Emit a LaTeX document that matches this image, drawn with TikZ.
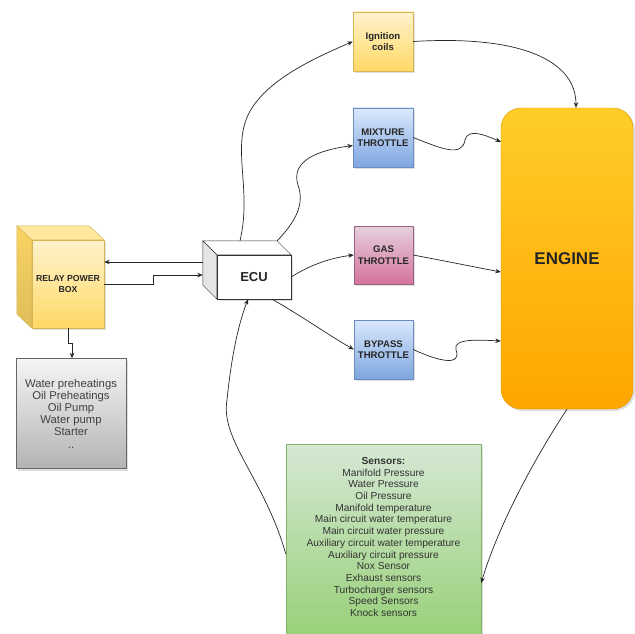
\documentclass[tikz,border=0pt]{standalone}
\usepackage{fontspec}
\setmainfont{Liberation Sans}
\usetikzlibrary{arrows.meta,shadows}
\definecolor{ylwtop}{HTML}{FFF2CC}
\definecolor{ylwbot}{HTML}{FFD966}
\definecolor{ylwline}{HTML}{D6B656}
\definecolor{blutop}{HTML}{DAE8FC}
\definecolor{blubot}{HTML}{7EA6E0}
\definecolor{bluline}{HTML}{6C8EBF}
\definecolor{pnktop}{HTML}{E6D0DE}
\definecolor{pnkbot}{HTML}{D5739D}
\definecolor{pnkline}{HTML}{996185}
\definecolor{orgtop}{HTML}{FFCD28}
\definecolor{orgbot}{HTML}{FFA500}
\definecolor{orgline}{HTML}{D79B00}
\definecolor{grytop}{HTML}{F5F5F5}
\definecolor{grybot}{HTML}{B3B3B3}
\definecolor{gryline}{HTML}{666666}
\definecolor{grntop}{HTML}{D5E8D4}
\definecolor{grnbot}{HTML}{97D077}
\definecolor{grnline}{HTML}{82B366}
\tikzset{
  blk/.style={draw, inner sep=0pt, align=center, text=black!85,
    font=\bfseries\fontsize{9.6}{11.5}\selectfont,
    drop shadow={opacity=.25, shadow xshift=2pt, shadow yshift=-2pt}},
  ylwblk/.style={blk, draw=ylwline, top color=ylwtop, bottom color=ylwbot},
  blublk/.style={blk, draw=bluline, top color=blutop, bottom color=blubot},
  pnkblk/.style={blk, draw=pnkline, top color=pnktop, bottom color=pnkbot},
  wire/.style={draw=black!85, line width=.7pt, -{Stealth[length=5.5pt,width=4.5pt]}},
}
\begin{document}
\begin{tikzpicture}[x=1pt,y=1pt]
\useasboundingbox (0,0) rectangle (635,-634);

\node[ylwblk, minimum width=60pt, minimum height=59pt] (ign) at (383,-41.5) {Ignition\\coils};
\node[blublk, minimum width=60pt, minimum height=59pt] (mix) at (383,-137.5) {MIXTURE\\THROTTLE};
\node[pnkblk, minimum width=59pt, minimum height=58pt] (gas) at (383.5,-255) {GAS\\THROTTLE};
\node[blublk, minimum width=59pt, minimum height=59pt] (byp) at (383.5,-349.5) {BYPASS\\THROTTLE};

\node[blk, draw=orgline, top color=orgtop, bottom color=orgbot, rounded corners=20pt,
  minimum width=132pt, minimum height=301pt, font=\bfseries\fontsize{17}{20}\selectfont] (engine) at (567,-258.5) {ENGINE};

\node[blk, draw=black!80, fill=white, minimum width=74pt, minimum height=44pt,
  font=\bfseries\fontsize{13}{15}\selectfont] (ecu) at (254,-277) {ECU};
\draw[draw=black!80, fill=white] (ecu.north west) -- ([shift={(-14,14)}]ecu.north west)
  -- ([shift={(-14,14)}]ecu.north east) -- (ecu.north east) -- cycle;
\draw[draw=black!80, fill=black!10] (ecu.north west) -- ([shift={(-14,14)}]ecu.north west)
  -- ([shift={(-14,14)}]ecu.south west) -- (ecu.south west) -- cycle;

\node[ylwblk, minimum width=72pt, minimum height=88pt,
  font=\bfseries\fontsize{8.7}{10.5}\selectfont] (relay) at (68,-284) {RELAY POWER\\BOX};
\draw[draw=ylwline, fill=ylwtop!55!ylwbot] (relay.north west) -- ([shift={(-15,14)}]relay.north west)
  -- ([shift={(-15,14)}]relay.north east) -- (relay.north east) -- cycle;
\draw[draw=ylwline, top color=ylwbot!85!ylwline, bottom color=ylwline!80!ylwbot] (relay.north west) -- ([shift={(-15,14)}]relay.north west)
  -- ([shift={(-15,14)}]relay.south west) -- (relay.south west) -- cycle;

\node[blk, draw=gryline, top color=grytop, bottom color=grybot, minimum width=110pt, minimum height=110pt,
  text=black!75, font=\fontsize{11.3}{12.2}\selectfont] (aux) at (71,-413.5)
  {Water preheatings\\Oil Preheatings\\Oil Pump\\Water pump\\Starter\\..};

\node[blk, draw=grnline, top color=grntop, bottom color=grnbot, minimum width=195pt, minimum height=196pt] (sensors) at (383.5,-542) {};
\node[align=center, text=black!80, inner sep=0pt, font=\fontsize{10.2}{11.7}\selectfont] (senslist) at (383.5,-537)
  {\textbf{Sensors:}\\Manifold Pressure\\Water Pressure\\Oil Pressure\\Manifold temperature\\Main circuit water temperature\\Main circuit water pressure\\Auxiliary circuit water temperature\\Auxiliary circuit pressure\\Nox Sensor\\Exhaust sensors\\Turbocharger sensors\\Speed Sensors\\Knock sensors};

\draw[wire] ([shift={(-14,15)}]ecu.west) -- ([yshift=22pt]relay.east);
\draw[wire] (relay.east) -- ++(49,0) |- ([shift={(-14,2)}]ecu.west);
\draw[wire] (relay.south) -- ++(0,-15) -| ([xshift=1pt]aux.north);

\draw[wire] ([shift={(-14,14)}]ecu.north) .. controls (252,-190) and (232,-150) .. (248,-115)
  .. controls (265,-80) and (315,-58) .. (ign.west);
\draw[wire] ([shift={(-14,14)}]ecu.north east) .. controls (295,-222) and (305,-205) .. (298,-185)
  .. controls (290,-160) and (320,-150) .. ([yshift=-8pt]mix.west);
\draw[wire] (ecu.east) .. controls (310,-265) and (330,-258) .. (gas.west);
\draw[wire] ([xshift=18pt]ecu.south) .. controls (300,-315) and (330,-336) .. (byp.west);

\draw[wire] (ign.east) .. controls (520,-35) and (576,-60) .. ([xshift=9pt]engine.north);
\draw[wire] (mix.east) .. controls (440,-148) and (462,-158) .. (465,-140)
  .. controls (468,-128) and (485,-135) .. ([yshift=-34pt]engine.north west);
\draw[wire] (gas.east) .. controls (450,-262) and (480,-268) .. ([yshift=-13.5pt]engine.west);
\draw[wire] (byp.east) .. controls (440,-362) and (462,-366) .. (456,-350)
  .. controls (452,-338) and (480,-340) .. ([yshift=-82.5pt]engine.west);

\draw[wire] (engine.south) .. controls (540,-450) and (500,-520) .. ([yshift=-41pt]sensors.east);
\draw[wire] ([yshift=-12pt]sensors.west) .. controls (265,-480) and (220,-440) .. (227,-400)
  .. controls (232,-350) and (240,-320) .. ([xshift=-6pt]ecu.south);
\end{tikzpicture}
\end{document}
